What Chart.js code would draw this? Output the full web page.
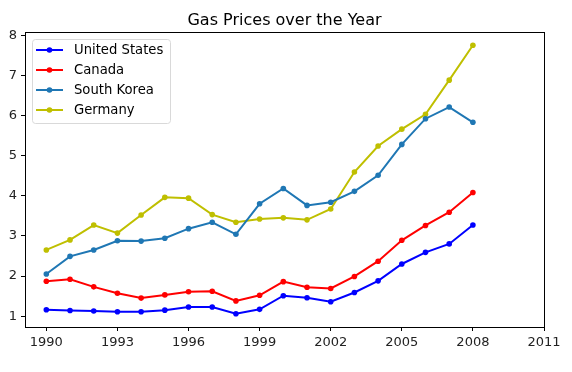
<!DOCTYPE html>
<html>
<head>
<meta charset="utf-8">
<script src="https://cdn.jsdelivr.net/npm/chart.js@4/dist/chart.umd.min.js"></script>
<style>
html,body{margin:0;padding:0;background:#fff;}
canvas{display:block;}
</style>
</head>
<body>
<canvas id="c" width="572" height="372"></canvas>
<script>
const years = [1990,1991,1992,1993,1994,1995,1996,1997,1998,1999,2000,2001,2002,2003,2004,2005,2006,2007,2008];
const usa = [1.16,1.14,1.13,1.11,1.11,1.15,1.23,1.23,1.06,1.17,1.51,1.46,1.36,1.59,1.88,2.30,2.59,2.80,3.27];
const canada = [1.87,1.92,1.73,1.57,1.45,1.53,1.61,1.62,1.38,1.52,1.86,1.72,1.69,1.99,2.37,2.89,3.26,3.59,4.08];
const southKorea = [2.05,2.49,2.65,2.88,2.87,2.94,3.18,3.34,3.04,3.80,4.18,3.76,3.84,4.11,4.51,5.28,5.92,6.21,5.83];
const germany = [2.65,2.90,3.27,3.07,3.52,3.96,3.94,3.53,3.34,3.42,3.45,3.40,3.67,4.59,5.24,5.66,6.03,6.88,7.75];
const xTicks = [1990,1993,1996,1999,2002,2005,2008,2011];
const yTicks = [1,2,3,4,5,6,7,8];
const titleText = 'Gas Prices over the Year';

const seriesNames = ['United States','Canada','South Korea','Germany'];
const seriesValues = [usa, canada, southKorea, germany];
const seriesColors = ['#0000ff','#ff0000','#1f77b4','#bfbf00'];

const FONT = '"DejaVu Sans", sans-serif';

const datasets = seriesNames.map((name, i) => ({
  label: name,
  data: years.map((y, j) => ({x: y, y: seriesValues[i][j]})),
  borderColor: seriesColors[i],
  backgroundColor: seriesColors[i],
  borderWidth: 2,
  pointRadius: 2.8,
  pointHoverRadius: 2.8,
  pointBorderWidth: 0,
  tension: 0,
  fill: false
}));

const framePlugin = {
  id: 'frame',
  afterDraw(chart) {
    const ctx = chart.ctx, a = chart.chartArea;
    ctx.save();
    ctx.strokeStyle = '#000';
    ctx.lineWidth = 1;
    ctx.strokeRect(Math.round(a.left) + 0.5, Math.round(a.top) + 0.5, Math.round(a.right - a.left), Math.round(a.bottom - a.top));
    // title
    ctx.fillStyle = '#000';
    ctx.font = '16px ' + FONT;
    ctx.textAlign = 'center';
    ctx.textBaseline = 'alphabetic';
    ctx.fillText(titleText, (a.left + a.right) / 2, 25);
    // legend
    const lx = 32, ly = 39, lw = 138, lh = 84;
    ctx.beginPath();
    if (ctx.roundRect) ctx.roundRect(lx + 0.5, ly + 0.5, lw, lh, 3); else ctx.rect(lx + 0.5, ly + 0.5, lw, lh);
    ctx.fillStyle = 'rgba(255,255,255,0.8)';
    ctx.fill();
    ctx.strokeStyle = '#d9d9d9';
    ctx.stroke();
    ctx.font = '13.2px ' + FONT;
    ctx.textAlign = 'left';
    ctx.textBaseline = 'middle';
    seriesNames.forEach((n, i) => {
      const y = 50 + i * 20;
      ctx.strokeStyle = seriesColors[i];
      ctx.lineWidth = 2;
      ctx.beginPath();
      ctx.moveTo(36, y); ctx.lineTo(63, y);
      ctx.stroke();
      ctx.fillStyle = seriesColors[i];
      ctx.beginPath();
      ctx.arc(49.5, y, 2.8, 0, Math.PI * 2);
      ctx.fill();
      ctx.fillStyle = '#000';
      ctx.fillText(n, 74, y + 1);
    });
    ctx.restore();
  }
};

new Chart(document.getElementById('c'), {
  type: 'line',
  data: {datasets},
  options: {
    responsive: false,
    animation: false,
    events: [],
    layout: {padding: {left: 0, top: 32, right: 28, bottom: 0}},
    plugins: {legend: {display: false}, title: {display: false}, tooltip: {enabled: false}},
    scales: {
      x: {
        type: 'linear',
        min: 1989.1,
        max: 2011,
        afterBuildTicks(scale) { scale.ticks = xTicks.map(v => ({value: v})); },
        afterFit(scale) { scale.height = 45; },
        grid: {display: true, drawOnChartArea: false, drawTicks: true, tickLength: 4, tickWidth: 1, color: '#000'},
        border: {display: false},
        ticks: {color: '#222', font: {family: FONT, size: 13}, padding: 4, maxRotation: 0, autoSkip: false,
          callback: v => String(v)}
      },
      y: {
        type: 'linear',
        min: 0.73,
        max: 8.08,
        afterBuildTicks(scale) { scale.ticks = yTicks.map(v => ({value: v})); },
        afterFit(scale) { scale.width = 25; },
        grid: {display: true, drawOnChartArea: false, drawTicks: true, tickLength: 4, tickWidth: 1, color: '#000'},
        border: {display: false},
        ticks: {color: '#222', font: {family: FONT, size: 13}, padding: 4, autoSkip: false,
          callback: v => String(v)}
      }
    }
  },
  plugins: [framePlugin]
});
</script>
</body>
</html>
